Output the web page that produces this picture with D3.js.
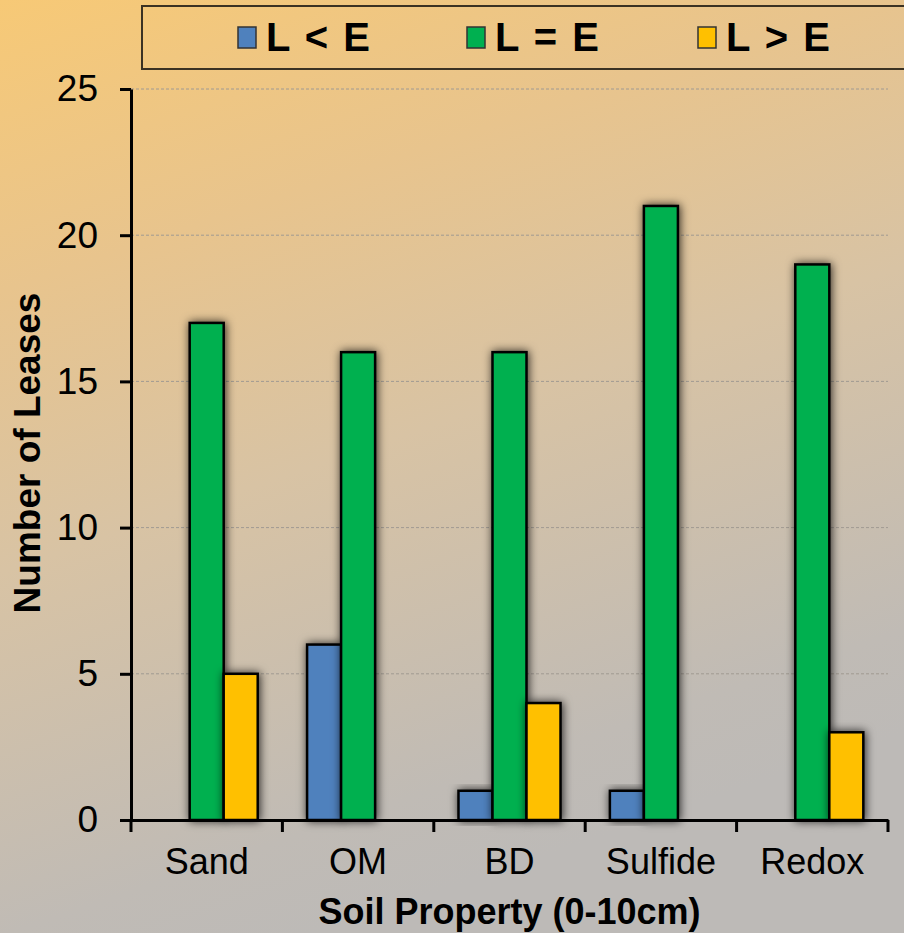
<!DOCTYPE html>
<html>
<head>
<meta charset="utf-8">
<script src="https://cdn.jsdelivr.net/npm/d3@7"></script>
<style>
  html, body { margin: 0; padding: 0; }
  svg { display: block; font-family: Arial, "Liberation Sans", sans-serif; }
</style>
</head>
<body>
<svg id="chart" width="904" height="933"></svg>
<script>
// Soil property categories and lease counts per comparison group
const categories = ["Sand", "OM", "BD", "Sulfide", "Redox"];
const seriesNames = ["L < E", "L = E", "L > E"];
const lessValues = [0, 6, 1, 1, 0];
const equalValues = [17, 16, 16, 21, 19];
const greaterValues = [5, 0, 4, 0, 3];
const yTicks = [0, 5, 10, 15, 20, 25];
const seriesColors = ["#4f81bd", "#00b050", "#ffc000"];

const seriesValues = [lessValues, equalValues, greaterValues];

const W = 904, H = 933;
const plot = { left: 131, right: 888, top: 89, bottom: 820 };

const svg = d3.select("#chart");
const defs = svg.append("defs");

// Warm-to-grey page background
const bg = defs.append("linearGradient")
  .attr("id", "bg").attr("gradientUnits", "userSpaceOnUse")
  .attr("x1", 0).attr("y1", 0).attr("x2", 316).attr("y2", 933);
bg.append("stop").attr("offset", 0).attr("stop-color", "#f7c976");
bg.append("stop").attr("offset", 0.28).attr("stop-color", "#e8c48d");
bg.append("stop").attr("offset", 0.55).attr("stop-color", "#d8c3a4");
bg.append("stop").attr("offset", 0.9).attr("stop-color", "#c0bbb5");
bg.append("stop").attr("offset", 1).attr("stop-color", "#bdbab7");
svg.append("rect").attr("width", W).attr("height", H).attr("fill", "url(#bg)");

// Soft glow shadow under bars
const sh = defs.append("filter").attr("id", "shadow")
  .attr("x", "-50%").attr("y", "-20%").attr("width", "200%").attr("height", "140%");
sh.append("feDropShadow").attr("dx", 1).attr("dy", 0).attr("stdDeviation", 5)
  .attr("flood-color", "#000").attr("flood-opacity", 0.8);

const x = d3.scaleBand().domain(categories).range([plot.left, plot.right]).paddingInner(0).paddingOuter(0);
const xs = d3.scaleBand().domain(seriesNames).range([0, x.bandwidth()]).paddingInner(0).paddingOuter(0.726);
const y = d3.scaleLinear().domain([0, 25]).range([plot.bottom, plot.top]);

// Dashed horizontal gridlines
svg.append("g").selectAll("line")
  .data(yTicks.filter(d => d > 0))
  .join("line")
  .attr("x1", plot.left).attr("x2", plot.right)
  .attr("y1", d => y(d)).attr("y2", d => y(d))
  .attr("stroke", "#a09a92").attr("stroke-width", 1).attr("stroke-dasharray", "3,2");

// Bars
const rows = categories.flatMap((c, i) => seriesNames.map((s, j) => ({ c, s, j, v: seriesValues[j][i] })))
  .filter(d => d.v > 0);
svg.append("g").selectAll("rect")
  .data(rows)
  .join("rect")
  .attr("x", d => x(d.c) + xs(d.s))
  .attr("y", d => y(d.v))
  .attr("width", xs.bandwidth())
  .attr("height", d => y(0) - y(d.v))
  .attr("fill", d => seriesColors[d.j])
  .attr("stroke", "#000").attr("stroke-width", 2.5)
  .attr("filter", "url(#shadow)");

// Y axis
const yAxis = svg.append("g").attr("transform", `translate(${plot.left},0)`)
  .call(d3.axisLeft(y).tickValues(yTicks).tickSize(11).tickSizeOuter(0).tickPadding(22));
yAxis.select(".domain").attr("stroke", "#000").attr("stroke-width", 3);
yAxis.selectAll(".tick line").attr("stroke", "#000").attr("stroke-width", 3);
yAxis.selectAll(".tick text").attr("font-size", 37).attr("fill", "#000")
  .attr("font-family", "Arial, 'Liberation Sans', sans-serif");

// X axis: labels centred in categories, ticks on category boundaries
const xAxis = svg.append("g").attr("transform", `translate(0,${plot.bottom})`)
  .call(d3.axisBottom(x).tickSize(0).tickSizeOuter(0).tickPadding(28));
xAxis.select(".domain").attr("stroke", "#000").attr("stroke-width", 3);
xAxis.selectAll(".tick text").attr("font-size", 36).attr("fill", "#000")
  .attr("font-family", "Arial, 'Liberation Sans', sans-serif");
const boundaries = categories.map(c => x(c)).concat([x.range()[1]]);
xAxis.append("g").selectAll("line")
  .data(boundaries)
  .join("line")
  .attr("x1", d => d).attr("x2", d => d)
  .attr("y1", 0).attr("y2", 12)
  .attr("stroke", "#000").attr("stroke-width", 3);

// Axis titles
svg.append("text")
  .attr("transform", `translate(40,453) rotate(-90)`)
  .attr("text-anchor", "middle")
  .attr("font-size", 37).attr("font-weight", "bold").attr("fill", "#000")
  .text("Number of Leases");
svg.append("text")
  .attr("x", (plot.left + plot.right) / 2).attr("y", 924)
  .attr("text-anchor", "middle")
  .attr("font-size", 36).attr("font-weight", "bold").attr("fill", "#000")
  .text("Soil Property (0-10cm)");

// Legend
const legend = svg.append("g");
legend.append("rect")
  .attr("x", 142).attr("y", 6).attr("width", 800).attr("height", 63)
  .attr("fill", "none").attr("stroke", "#3b3223").attr("stroke-width", 2);
const legendX = [238, 467, 698];
const items = legend.selectAll("g.item")
  .data(seriesNames)
  .join("g").attr("class", "item")
  .attr("transform", (d, i) => `translate(${legendX[i]},0)`);
items.append("rect")
  .attr("x", 0).attr("y", 27).attr("width", 18).attr("height", 21)
  .attr("fill", (d, i) => seriesColors[i])
  .attr("stroke", "#333").attr("stroke-width", 1.5);
items.append("text")
  .attr("x", 28).attr("y", 51)
  .attr("font-size", 40).attr("font-weight", "bold").attr("fill", "#000")
  .attr("letter-spacing", 2)
  .text(d => d);
</script>
</body>
</html>
